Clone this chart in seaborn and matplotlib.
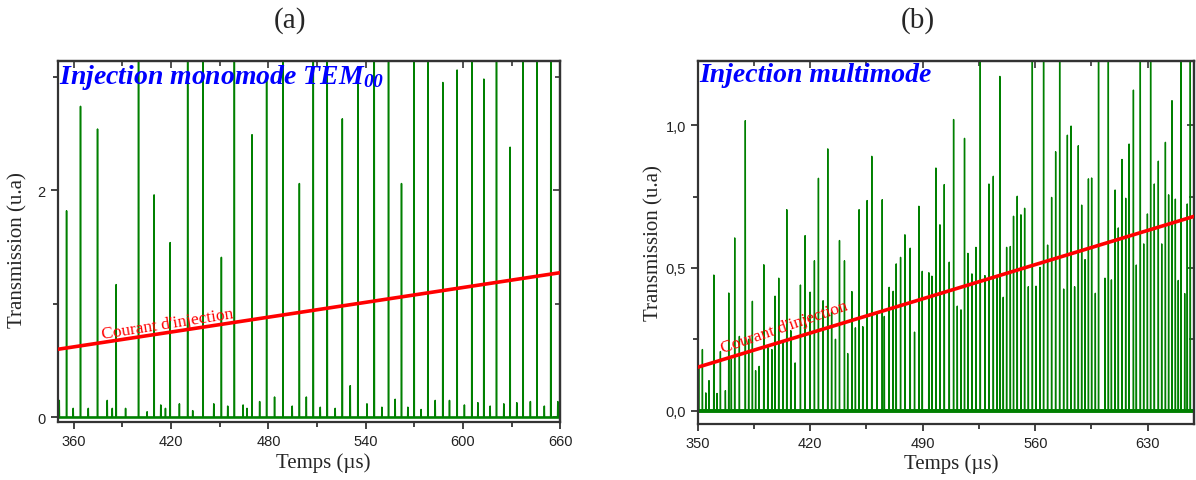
import numpy as np
import pandas as pd
import seaborn as sns
import matplotlib.pyplot as plt
from matplotlib.ticker import MultipleLocator, FixedLocator, FuncFormatter, NullFormatter

# (a) monomode injection: main transmission peaks (time in us, height in u.a)
mono_peak_t = [355.5, 364.1, 374.6, 386.1, 399.9, 409.5, 419.4, 430.2, 439.7, 451.0,
               459.0, 469.9, 478.9, 489.0, 499.1, 507.7, 516.3, 525.6, 535.2, 545.3,
               554.1, 562.1, 569.9, 578.4, 587.6, 596.4, 605.5, 612.9, 620.7, 629.1,
               637.1, 645.7, 654.2]
mono_peak_h = [1.82, 2.74, 2.54, 1.17, 3.40, 1.96, 1.54, 3.40, 3.40, 1.41,
               3.40, 2.49, 2.97, 3.40, 2.06, 3.40, 3.40, 2.63, 3.08, 3.40,
               3.40, 2.06, 3.40, 3.40, 2.95, 3.06, 3.40, 2.98, 3.40, 2.38,
               3.40, 3.40, 3.40]
# small secondary peaks near the baseline
mono_small_t = [351.0, 359.6, 368.9, 380.6, 383.7, 391.9, 405.2, 413.6, 416.5, 425.1,
                433.3, 446.3, 454.9, 464.4, 466.8, 474.6, 483.8, 494.7, 503.4, 512.0,
                521.2, 530.5, 540.8, 550.0, 558.2, 566.0, 574.2, 582.9, 591.7, 600.9,
                609.2, 616.8, 625.2, 633.2, 641.6, 650.2, 658.5]
mono_small_h = [0.15, 0.08, 0.08, 0.15, 0.08, 0.08, 0.05, 0.11, 0.08, 0.12,
                0.06, 0.12, 0.10, 0.11, 0.08, 0.14, 0.18, 0.10, 0.18, 0.09,
                0.08, 0.28, 0.12, 0.09, 0.16, 0.09, 0.07, 0.15, 0.15, 0.11,
                0.13, 0.10, 0.12, 0.13, 0.14, 0.10, 0.14]
mono_current_t = [350, 660]
mono_current_a = [0.60, 1.275]

# (b) multimode injection
multi_peak_t = [350.6, 352.9, 355.0, 357.0, 360.0, 362.0, 364.1, 367.2, 369.3, 370.9,
                373.0, 375.9, 379.6, 381.7, 384.0, 386.0, 388.2, 391.1, 393.6, 396.1,
                398.1, 400.4, 403.1, 405.4, 407.9, 410.6, 413.9, 416.8, 419.9, 422.6,
                425.1, 428.0, 430.9, 433.3, 435.7, 438.2, 441.3, 443.3, 445.9, 448.1,
                450.4, 452.7, 455.4, 458.3, 461.6, 464.8, 466.1, 469.1, 471.6, 473.5,
                476.2, 478.9, 482.2, 484.9, 487.6, 489.7, 493.8, 495.7, 498.2, 500.7,
                503.4, 506.5, 509.2, 511.5, 513.8, 516.0, 518.1, 520.6, 523.1, 525.8,
                528.7, 531.2, 533.9, 536.2, 538.0, 540.1, 542.2, 544.5, 546.5, 548.8,
                551.1, 553.4, 555.7, 558.2, 560.5, 563.0, 565.2, 567.7, 570.2, 572.7,
                575.2, 577.7, 580.0, 582.3, 584.5, 586.8, 588.9, 591.0, 593.1, 595.1,
                597.4, 599.4, 603.4, 605.5, 607.4, 609.7, 611.7, 614.0, 616.3, 618.4,
                621.1, 622.9, 625.4, 627.5, 629.8, 631.8, 634.1, 636.6, 638.7, 641.0,
                643.0, 645.1, 647.2, 649.0, 650.7, 653.0, 654.6, 656.5, 658.8]
multi_peak_h = [0.158, 0.214, 0.062, 0.105, 0.475, 0.060, 0.207, 0.070, 0.412, 0.180,
                0.605, 0.260, 1.016, 0.250, 0.383, 0.140, 0.155, 0.511, 0.222, 0.214,
                0.401, 0.464, 0.240, 0.704, 0.280, 0.167, 0.440, 0.613, 0.415, 0.525,
                0.814, 0.385, 0.917, 0.345, 0.250, 0.596, 0.525, 0.200, 0.417, 0.290,
                0.704, 0.294, 0.736, 0.891, 0.345, 0.739, 0.330, 0.432, 0.418, 0.514,
                0.537, 0.616, 0.569, 0.275, 0.716, 0.488, 0.483, 0.471, 0.850, 0.651,
                0.792, 0.520, 1.020, 0.366, 0.353, 0.954, 0.551, 0.479, 0.572, 1.300,
                0.473, 0.794, 0.821, 0.469, 1.171, 0.397, 0.572, 0.575, 0.681, 0.751,
                0.686, 0.709, 0.434, 1.300, 0.436, 0.502, 1.300, 0.580, 0.747, 0.907,
                1.300, 0.426, 0.965, 0.997, 0.434, 0.928, 0.720, 0.529, 0.812, 0.815,
                0.411, 1.300, 0.464, 1.300, 0.458, 0.773, 0.640, 0.880, 0.744, 0.934,
                1.123, 0.510, 1.300, 0.584, 0.689, 1.300, 0.794, 0.874, 0.584, 0.940,
                0.756, 1.086, 0.741, 0.456, 1.300, 0.410, 0.724, 1.300, 0.852]
multi_current_t = [350, 659]
multi_current_a = [0.152, 0.681]

GREEN = "#008000"
RED = "#ff0000"
BLUE = "#0000ff"


def spike_trace(times, heights, half_width=0.12):
    # each peak becomes a narrow triangle sitting on the zero baseline
    rows = []
    for t, h in sorted(zip(times, heights)):
        rows += [(t - half_width, 0.0), (t, h), (t + half_width, 0.0)]
    return pd.DataFrame(rows, columns=["t", "v"])


def comma_fmt(v, pos):
    return f"{v:.1f}".replace(".", ",")


def style_axes(ax, x_major, x_minor, y_major, y_minor):
    ax.xaxis.set_major_locator(x_major)
    ax.xaxis.set_minor_locator(x_minor)
    ax.yaxis.set_major_locator(y_major)
    ax.yaxis.set_minor_locator(y_minor)
    ax.tick_params(which="both", direction="out", top=False, right=False,
                   labelsize=10.5, width=1.2, colors="#222222")
    ax.tick_params(which="major", length=5)
    ax.tick_params(which="minor", length=3.5)
    for lab in ax.get_xticklabels() + ax.get_yticklabels():
        lab.set_family("Liberation Sans")
    for sp in ax.spines.values():
        sp.set_linewidth(1.6)
        sp.set_color("#333333")

    # mirrored ticks on top and right point inwards
    top = ax.secondary_xaxis("top")
    top.xaxis.set_major_locator(x_major)
    top.xaxis.set_minor_locator(x_minor)
    top.xaxis.set_major_formatter(NullFormatter())
    right = ax.secondary_yaxis("right")
    right.yaxis.set_major_locator(y_major)
    right.yaxis.set_minor_locator(y_minor)
    right.yaxis.set_major_formatter(NullFormatter())
    for sec in (top, right):
        sec.tick_params(which="both", direction="in", width=1.2, colors="#333333")
        sec.tick_params(which="major", length=5)
        sec.tick_params(which="minor", length=3.5)
        for sp in sec.spines.values():
            sp.set_linewidth(1.6)
            sp.set_color("#333333")

    ax.set_xlabel("Temps (µs)", fontsize=15, family="Liberation Serif")
    ax.set_ylabel("Transmission (u.a)", fontsize=15, family="Liberation Serif")


sns.set_style("ticks")
plt.rcParams["font.family"] = ["Liberation Serif", "DejaVu Serif"]
plt.rcParams["mathtext.fontset"] = "custom"
plt.rcParams["mathtext.rm"] = "Liberation Serif:italic:bold"
plt.rcParams["mathtext.it"] = "Liberation Serif:italic:bold"
plt.rcParams["mathtext.bf"] = "Liberation Serif:italic:bold"

fig = plt.figure(figsize=(11.96, 4.81), dpi=100)
ax1 = fig.add_axes([0.0482, 0.1206, 0.4202, 0.7495])
ax2 = fig.add_axes([0.5834, 0.1164, 0.4152, 0.7547])

# ---- panel (a)
mono = spike_trace(mono_peak_t + mono_small_t, mono_peak_h + mono_small_h)
ax1.axhline(0, color=GREEN, lw=1.8, zorder=1)
sns.lineplot(data=mono, x="t", y="v", ax=ax1, color=GREEN, lw=1.1,
             sort=False, estimator=None, zorder=2)
sns.lineplot(x=mono_current_t, y=mono_current_a, ax=ax1, color=RED, lw=2.6, zorder=3)
ax1.set_xlim(350, 660)
ax1.set_ylim(-0.04, 3.135)
style_axes(ax1, FixedLocator([360, 420, 480, 540, 600, 660]), MultipleLocator(30),
           FixedLocator([0, 2]), MultipleLocator(1))
ax1.xaxis.set_label_coords(0.528, -0.083)
ax1.yaxis.set_label_coords(-0.061, 0.48)
ax1.text(0.003, 0.940, r"Injection monomode TEM$_{00}$", transform=ax1.transAxes,
         color=BLUE, fontsize=20, fontweight="bold", fontstyle="italic",
         ha="left", va="baseline")
ax1.text(377.7, 0.70, "Courant d'injection", color=RED, fontsize=12.5,
         rotation=9, rotation_mode="anchor", ha="left", va="baseline")

# ---- panel (b)
multi = spike_trace(multi_peak_t, multi_peak_h)
ax2.axhline(0, color=GREEN, lw=2.8, zorder=1)
sns.lineplot(data=multi, x="t", y="v", ax=ax2, color=GREEN, lw=1.0,
             sort=False, estimator=None, zorder=2)
sns.lineplot(x=multi_current_t, y=multi_current_a, ax=ax2, color=RED, lw=2.6, zorder=3)
ax2.set_xlim(350, 659)
ax2.set_ylim(-0.047, 1.225)
style_axes(ax2, MultipleLocator(70), MultipleLocator(35),
           MultipleLocator(0.5), MultipleLocator(0.25))
ax2.yaxis.set_major_formatter(FuncFormatter(comma_fmt))
ax2.xaxis.set_label_coords(0.511, -0.08)
ax2.yaxis.set_label_coords(-0.068, 0.5)
ax2.text(0.003, 0.945, "Injection multimode", transform=ax2.transAxes,
         color=BLUE, fontsize=20, fontweight="bold", fontstyle="italic",
         ha="left", va="baseline")
ax2.text(365.8, 0.205, "Courant d'injection", color=RED, fontsize=12.5,
         rotation=19, rotation_mode="anchor", ha="left", va="baseline")

fig.text(0.2425, 0.958, "(a)", fontsize=21, ha="center", va="center")
fig.text(0.767, 0.958, "(b)", fontsize=21, ha="center", va="center")

fig.savefig("out.png", dpi=100)
